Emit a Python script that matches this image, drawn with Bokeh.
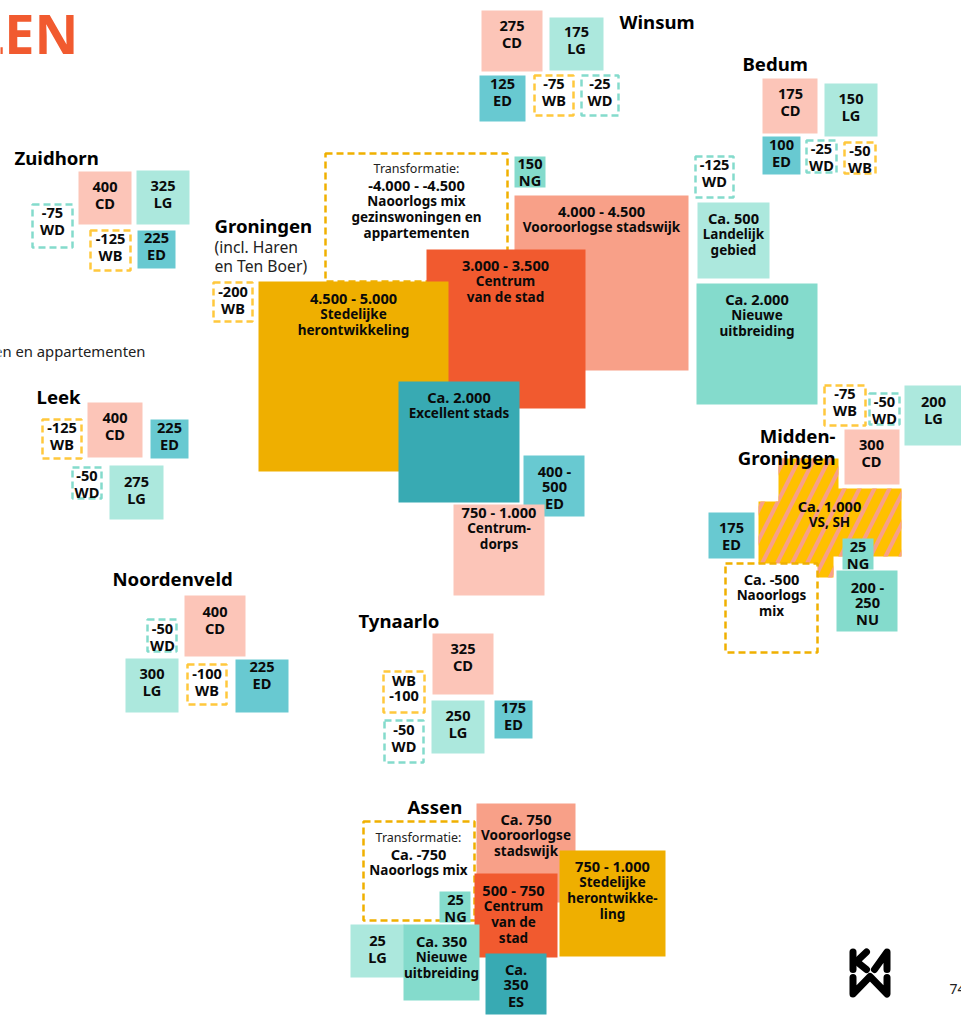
from bokeh.plotting import figure
from bokeh.models import Range1d
from bokeh.core.properties import value
from bokeh.embed import file_html
from bokeh.resources import INLINE

BOLD_FONT = "Noto Sans"

# Each box: label lines, kind
LABELS = [
    "400|CD", "325|LG", "-75|WD", "-125|WB", "225|ED", "-200|WB",
    "275|CD", "175|LG", "125|ED", "-75|WB", "-25|WD",
    "|-4.000 - -4.500|Naoorlogs mix|gezinswoningen en|appartementen", "150|NG",
    "4.000 - 4.500|Vooroorlogse stadswijk", "3.000 - 3.500|Centrum|van de stad",
    "4.500 - 5.000|Stedelijke|herontwikkeling", "Ca. 2.000|Excellent stads",
    "400 -|500|ED", "750 - 1.000|Centrum-|dorps",
    "175|CD", "150|LG", "100|ED", "-25|WD", "-50|WB", "-125|WD",
    "Ca. 500|Landelijk|gebied", "Ca. 2.000|Nieuwe|uitbreiding",
    "-75|WB", "-50|WD", "200|LG", "300|CD",
    "175|ED", "Ca. -500|Naoorlogs|mix", "25|NG", "200 -|250|NU",
    "-125|WB", "400|CD", "225|ED", "-50|WD", "275|LG",
    "400|CD", "-50|WD", "300|LG", "-100|WB", "225|ED",
    "325|CD", "WB|-100", "250|LG", "175|ED", "-50|WD",
    "|Ca. -750|Naoorlogs mix", "Ca. 750|Vooroorlogse|stadswijk", "500 - 750|Centrum|van de|stad",
    "750 - 1.000|Stedelijke|herontwikke-|ling", "25|NG", "25|LG", "Ca. 350|Nieuwe|uitbreiding", "Ca.|350|ES",
]
KINDS = [
    "CD", "LG", "DT", "DY", "ED", "DY",
    "CD", "LG", "ED", "DY", "DT",
    "DO", "NU",
    "VS", "CS",
    "SH", "ES",
    "ED", "CD",
    "CD", "LG", "ED", "DT", "DY", "DT",
    "LG", "NU",
    "DY", "DT", "LG", "CD",
    "ED", "DO", "NU", "NU",
    "DY", "CD", "ED", "DT", "LG",
    "CD", "DT", "LG", "DY", "ED",
    "CD", "DY", "LG", "ED", "DT",
    "DO", "VS", "CS",
    "SH", "NU", "LG", "NU", "ES",
]
LEFT = [78, 136, 32, 90, 137, 213,
        481, 549, 479, 534, 581,
        325, 514, 514, 426, 258, 398, 523, 453,
        762, 824, 762, 806, 844, 695, 697, 696,
        824, 869, 904, 844,
        708, 725, 842, 836,
        42, 87, 150, 72, 109,
        184, 147, 125, 187, 235,
        432, 383, 431, 494, 384,
        363, 476, 474, 559, 439, 350, 403, 485]
RIGHT = [131, 189, 72, 130, 175, 252,
         542, 603, 525, 573, 618,
         507, 545, 688, 585, 448, 519, 584, 544,
         817, 877, 800, 836, 875, 733, 769, 817,
         865, 899, 961, 899,
         754, 817, 873, 897,
         81, 142, 188, 101, 163,
         245, 176, 178, 226, 288,
         493, 424, 484, 532, 423,
         474, 575, 557, 665, 470, 404, 479, 546]
TOP = [171, 170, 204, 230, 230, 282,
       10, 17, 75, 75, 75,
       153, 156, 195, 249, 281, 381, 455, 504,
       78, 83, 136, 140, 142, 156, 202, 283,
       385, 393, 385, 429,
       512, 563, 538, 570,
       419, 402, 419, 467, 465,
       595, 619, 658, 664, 659,
       633, 671, 700, 700, 720,
       821, 803, 873, 850, 891, 924, 924, 953]
BOTTOM = [224, 224, 247, 270, 268, 321,
          71, 70, 121, 115, 115,
          281, 187, 370, 408, 471, 502, 516, 595,
          133, 136, 174, 172, 173, 197, 278, 404,
          425, 424, 445, 484,
          558, 652, 569, 631,
          458, 457, 458, 498, 519,
          656, 651, 712, 704, 712,
          694, 712, 753, 738, 762,
          920, 902, 957, 956, 922, 977, 1000, 1014]
TEXT_X = [104.5, 162.5, 52, 110, 156, 232.5,
          511.5, 576, 502, 553.5, 599.5,
          416, 529.5, 601, 505, 353, 458.5, 554, 498.5,
          790, 850.5, 781, 821, 859.5, 714, 733, 756.5,
          844.5, 884, 933, 871,
          731, 771, 857.5, 867,
          61.5, 114.5, 169, 86.5, 136,
          214.5, 162, 151.5, 206.5, 261.5,
          462.5, 403.5, 457.5, 513, 403.5,
          418, 525.5, 513, 612, 455, 377, 441, 515.5]
TEXT_Y = [186, 185, 212, 238, 237, 291,
          25, 31, 83, 83, 83,
          168, 163, 210, 264, 297, 396, 470, 511,
          93, 98, 144, 148, 150, 164, 217, 298,
          393, 401, 401, 444,
          527, 578, 546, 586,
          427, 417, 427, 475, 481,
          611, 628, 673, 673, 666,
          648, 679, 715, 707, 729,
          837, 818, 889, 865, 899, 940, 940, 968]

REGIONS = ["Zuidhorn", "Winsum", "Bedum", "Groningen", "Leek", "Noordenveld", "Tynaarlo", "Assen"]
REGION_X = [14, 619, 742, 214, 36, 112, 358, 407]
REGION_Y = [157, 21, 63, 225, 396, 578, 620, 806]

NOTES = ["(incl. Haren", "en Ten Boer)", "Transformatie:", "Transformatie:"]
NOTE_X = [214, 214, 416, 418]
NOTE_Y = [246, 265, 168, 837]

FILL = {"CD": "#FCC5B8", "LG": "#ACE8DD", "ED": "#68C9D1", "NU": "#84DBCC", "VS": "#F8A088",
        "CS": "#F15A2F", "SH": "#EFAF00", "ES": "#38AAB3", "DT": "#FFFFFF", "DY": "#FFFFFF", "DO": "#FFFFFF"}
EDGE = {"DT": "#84DBCC", "DY": "#FFC83D", "DO": "#F0B000"}

p = figure(width=961, height=1017, x_range=Range1d(0, 961), y_range=Range1d(1017, 0),
           output_backend="svg", toolbar_location=None, min_border=0,
           x_axis_location=None, y_axis_location=None, outline_line_color=None,
           background_fill_color="#FFFFFF")
p.grid.visible = False

# hatched Midden-Groningen block goes below the boxes
p.patch([778, 838, 838, 901, 901, 833, 833, 758, 758, 778],
        [458, 458, 488, 488, 556, 556, 577, 577, 501, 501],
        fill_color="#FFC000", line_color=None,
        hatch_pattern="right_diagonal_line", hatch_color="#F8A088", hatch_weight=4, hatch_scale=30)

for i in range(len(LABELS)):
    k = KINDS[i]
    if k in EDGE:
        p.quad(left=[LEFT[i]], right=[RIGHT[i]], top=[TOP[i]], bottom=[BOTTOM[i]],
               fill_color=FILL[k], line_color=EDGE[k], line_width=2.5, line_dash="7 4")
    else:
        p.quad(left=[LEFT[i]], right=[RIGHT[i]], top=[TOP[i]], bottom=[BOTTOM[i]],
               fill_color=FILL[k], line_color=None)

xs, ys, ts = [], [], []
xl, yl, tl = [], [], []
for lab, x, y in zip(LABELS, TEXT_X, TEXT_Y):
    for j, line in enumerate(lab.split("|")):
        if not line:
            continue
        if any(c.isdigit() for c in line) or (len(line) <= 2 and line.isupper()) or line == "Ca.":
            xl.append(x); yl.append(y + j * 16); tl.append(line)
        else:
            xs.append(x); ys.append(y + j * 16); ts.append(line)
xl.append(829); yl.append(505); tl.append("Ca. 1.000")
xs.append(829); ys.append(521); ts.append("VS, SH")
p.text(x=xs, y=ys, text=ts, text_font=value(BOLD_FONT), text_font_style="bold", text_font_size="13.5px",
       text_align="center", text_baseline="middle", text_color="#0A0A0A")
p.text(x=xl, y=yl, text=tl, text_font=value(BOLD_FONT), text_font_style="bold", text_font_size="14.6px",
       text_align="center", text_baseline="middle", text_color="#0A0A0A")

p.text(x=REGION_X, y=REGION_Y, text=REGIONS, text_font=value(BOLD_FONT), text_font_style="bold",
       text_font_size="18.6px", text_align="left", text_baseline="middle", text_color="#000000")
p.text(x=[835, 835], y=[435, 457], text=["Midden-", "Groningen"], text_font=value(BOLD_FONT), text_font_style="bold",
       text_font_size="18.6px", text_align="right", text_baseline="middle", text_color="#000000")

p.text(x=NOTE_X[:2], y=NOTE_Y[:2], text=NOTES[:2], text_font=value(BOLD_FONT), text_font_size="15.7px",
       text_align="left", text_baseline="middle", text_color="#222222")
p.text(x=NOTE_X[2:], y=NOTE_Y[2:], text=NOTES[2:], text_font=value(BOLD_FONT), text_font_size="12.5px",
       text_align="center", text_baseline="middle", text_color="#222222")
p.text(x=[145], y=[350], text=["en en appartementen"], text_font=value(BOLD_FONT), text_font_size="14.8px",
       text_align="right", text_baseline="middle", text_color="#222222")
p.text(x=[78], y=[32], text=["LEN"], text_font=value(BOLD_FONT), text_font_style="bold", text_font_size="54px",
       text_align="right", text_baseline="middle", text_color="#F15A2F")
p.text(x=[949], y=[988], text=["74"], text_font=value(BOLD_FONT), text_font_size="14px",
       text_align="left", text_baseline="middle", text_color="#222222")

# logo
p.multi_line(xs=[[852.5, 852.5], [866, 856, 866], [886.5, 886.5, 874], [852.5, 852.5, 869.5, 886.5, 886.5]],
             ys=[[951.5, 969], [951.5, 961, 969], [969, 951.5, 969], [977, 993.5, 976, 993.5, 977]],
             line_color="#000000", line_width=7, line_cap="round", line_join="round")

open("out.html", "w").write(file_html(p, INLINE))
